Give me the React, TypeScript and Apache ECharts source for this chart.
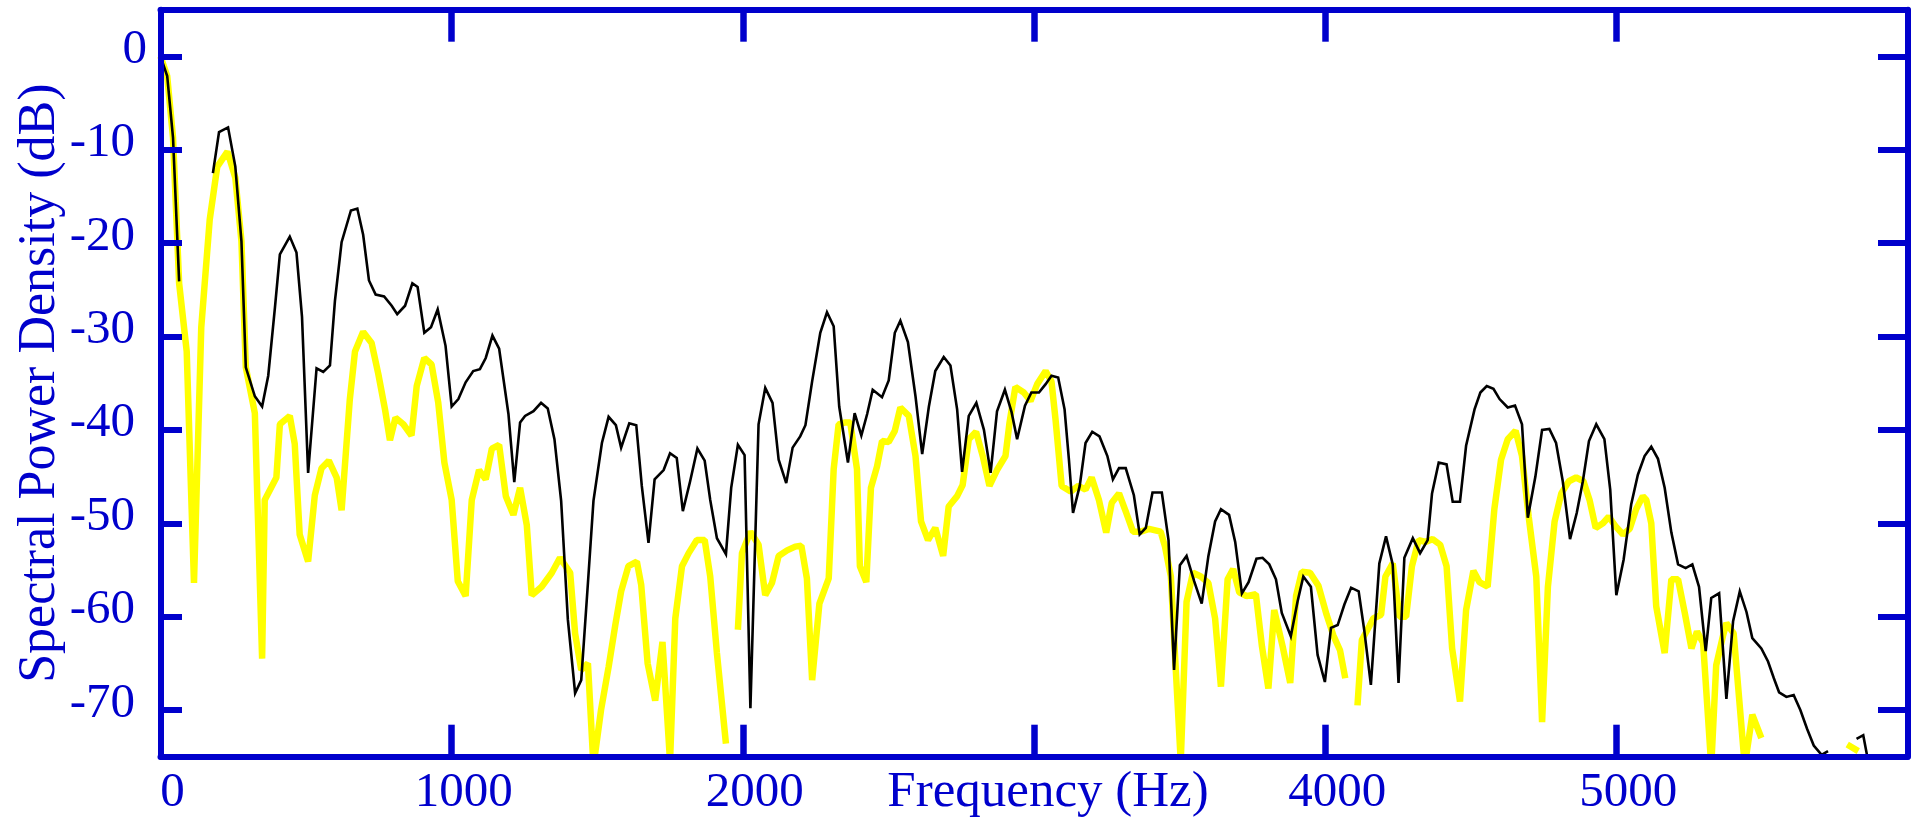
import React, { useEffect, useRef } from 'react';
import * as echarts from 'echarts';

const BLUE = '#0000cc';
const FONT = "'Liberation Serif', 'Times New Roman', serif";

const X_TICKS = [1000, 2000, 3000, 4000, 5000];
const X_LABELS = [0, 1000, 2000, 4000, 5000];
const Y_TICKS = [-70, -60, -50, -40, -30, -20, -10, 0];
const Y_LABELS = [-70, -60, -50, -40, -30, -20, -10, 0];

// [frequency Hz, dB]; null marks a break in the trace
const blackSpectrum: [number, number | null][] = [
  [0, 0], [23, -2.1], [43, -8.7], [64, -24.1], [86, null],
  [180, -12.5], [201, -8.1], [232, -7.6], [257, -11.8], [278, -19.8], [293, -33.3],
  [324, -36.4], [349, -37.5], [370, -34.2], [393, -26.9], [410, -21.2], [444, -19.3],
  [467, -21], [486, -27.9], [507, -44.6], [536, -33.4], [559, -33.8], [582, -33.1],
  [599, -26.2], [622, -19.9], [654, -16.5], [676, -16.3], [696, -19.1], [716, -24],
  [739, -25.5], [768, -25.7], [794, -26.7], [813, -27.6], [840, -26.7], [865, -24.3],
  [883, -24.7], [906, -29.6], [929, -29.0], [952, -27.1], [979, -31], [1000, -37.5],
  [1023, -36.7], [1048, -34.9], [1074, -33.7], [1097, -33.5], [1117, -32.3], [1140, -29.9],
  [1163, -31.3], [1195, -38.3], [1215, -45.6], [1235, -39.2], [1252, -38.5], [1281, -38],
  [1307, -37.1], [1330, -37.7], [1353, -41], [1376, -47.6], [1399, -60.3], [1424, -68.2],
  [1445, -66.8], [1468, -56.4], [1487, -47.6], [1516, -41.4], [1539, -38.6], [1564, -39.5],
  [1582, -41.9], [1610, -39.3], [1634, -39.5], [1653, -46], [1676, -52.1], [1697, -45.3],
  [1728, -44.3], [1750, -42.5], [1773, -43], [1794, -48.7], [1819, -45.5], [1844, -42],
  [1869, -43.3], [1888, -47.5], [1911, -51.6], [1942, -53.3], [1960, -46.2], [1983, -41.6],
  [2006, -42.7], [2026, -69.8], [2054, -39.4], [2077, -35.5], [2102, -37.1], [2123, -43.2],
  [2149, -45.7], [2171, -41.9], [2197, -40.7], [2215, -39.5], [2238, -34.8], [2266, -29.6],
  [2289, -27.4], [2312, -28.9], [2331, -37.5], [2361, -43.5], [2384, -38.2], [2407, -40.6],
  [2427, -38.3], [2446, -35.7], [2478, -36.5], [2501, -34.7], [2522, -29.6], [2541, -28.3],
  [2567, -30.6], [2593, -36.4], [2616, -42.6], [2639, -37.5], [2661, -33.7], [2690, -32.2],
  [2713, -33.1], [2736, -37.8], [2753, -44.5], [2776, -38.5], [2802, -37.1], [2828, -40],
  [2851, -44.6], [2873, -38], [2900, -35.7], [2923, -38.1], [2942, -41], [2969, -37.4],
  [2991, -36], [3017, -36], [3040, -35.1], [3060, -34.2], [3083, -34.4], [3105, -37.8],
  [3120, -43.2], [3134, -48.9], [3157, -46], [3177, -41.4], [3200, -40.2], [3225, -40.7],
  [3252, -42.8], [3271, -45.3], [3292, -44.1], [3315, -44.1], [3343, -47], [3363, -51.2],
  [3384, -50.5], [3407, -46.7], [3439, -46.7], [3462, -51.8], [3481, -65.7], [3501, -54.5],
  [3524, -53.5], [3550, -56.2], [3576, -58.6], [3599, -53.5], [3622, -49.8], [3642, -48.5],
  [3670, -49.1], [3691, -52], [3714, -57.5], [3737, -56.3], [3764, -53.8], [3785, -53.7],
  [3808, -54.4], [3831, -56], [3851, -59.6], [3882, -62.1], [3905, -58.4], [3925, -55.7],
  [3951, -56.8], [3974, -64.1], [3999, -67], [4020, -61.2], [4043, -60.9], [4066, -58.7],
  [4089, -56.9], [4115, -57.3], [4134, -61.4], [4157, -67.3], [4186, -54.3], [4209, -51.4],
  [4232, -54.4], [4252, -67.1], [4272, -53.7], [4301, -51.6], [4326, -53.2], [4352, -51.8],
  [4367, -46.8], [4390, -43.5], [4417, -43.7], [4438, -47.7], [4463, -47.7], [4484, -41.7],
  [4513, -37.8], [4533, -36], [4555, -35.3], [4578, -35.6], [4599, -36.7], [4627, -37.6],
  [4652, -37.4], [4676, -39.4], [4696, -49.4], [4722, -45], [4745, -40], [4770, -39.9],
  [4793, -41.4], [4816, -45.5], [4841, -51.7], [4864, -48.9], [4885, -45.5], [4906, -41.2],
  [4931, -39.4], [4959, -41], [4979, -46.4], [5000, -57.7], [5025, -53.9], [5051, -48],
  [5074, -44.8], [5097, -42.8], [5120, -41.8], [5143, -43.1], [5166, -46.2], [5189, -51],
  [5212, -54.4], [5238, -54.8], [5261, -54.4], [5284, -56.8], [5307, -63.7], [5326, -58],
  [5353, -57.5], [5378, -68.8], [5401, -60.5], [5424, -57.3], [5447, -59.5], [5467, -62.3],
  [5498, -63.4], [5521, -64.8], [5541, -66.6], [5559, -68.1], [5584, -68.6], [5609, -68.4],
  [5632, -70], [5655, -72], [5678, -73.8], [5705, -74.8], [5727, -74.4], [5760, null],
  [5825, -73.1], [5848, -72.7], [5865, -75.5],
];

const yellowSpectrum: [number, number | null][] = [
  [0, 0], [23, -2.1], [43, -8.7], [64, -24.3], [90, -31.6], [115, -56.4], [140, -29],
  [169, -17.5], [195, -11.8], [230, -10.2], [257, -13], [278, -19.8], [293, -33.3],
  [324, -38.2], [349, -64.5], [358, -47.5], [398, -45.1], [410, -39.4], [444, -38.5],
  [461, -41.5], [478, -51.2], [507, -54.1], [530, -47], [553, -44.1], [578, -43.3],
  [605, -45.1], [622, -48.6], [650, -36.8], [668, -31.6], [696, -29.5], [725, -30.7],
  [748, -34], [771, -37.8], [788, -41.1], [807, -38.7], [834, -39.4], [862, -40.6],
  [880, -35.3], [906, -32.3], [931, -33], [954, -37.1], [975, -43.5], [1000, -47.5],
  [1021, -56.2], [1048, -57.8], [1069, -47.5], [1094, -44.3], [1117, -45.3], [1138, -42],
  [1163, -41.6], [1186, -47.1], [1212, -49.1], [1235, -46.2], [1258, -50.2], [1275, -57.7],
  [1309, -56.8], [1344, -55.3], [1372, -53.7], [1407, -55.3], [1424, -61.8], [1445, -65.7],
  [1468, -65], [1487, -76], [1513, -70], [1539, -65.4], [1562, -60.9], [1582, -57.3],
  [1607, -54.6], [1636, -54.1], [1651, -56.6], [1673, -65], [1699, -69], [1724, -62.7],
  [1750, -75.5], [1768, -60.2], [1791, -54.6], [1814, -53.2], [1842, -51.8], [1869, -51.8],
  [1888, -55.7], [1911, -63.9], [1942, -73.6], [1962, null],
  [1983, -61.4], [1997, -53.2], [2026, -50.9], [2054, -52.3], [2077, -57.7], [2100, -56.4],
  [2123, -53.5], [2152, -52.9], [2180, -52.5], [2201, -52.4], [2220, -55.9], [2238, -66.8],
  [2263, -58.6], [2295, -55.9], [2312, -44.2], [2329, -39.4], [2352, -39.2], [2369, -39.2],
  [2392, -44.2], [2402, -54.6], [2424, -56.3], [2440, -46.2], [2461, -43.9], [2478, -41.2],
  [2501, -41.3], [2522, -40.1], [2541, -37.6], [2570, -38.5], [2593, -42.8], [2612, -49.8],
  [2636, -51.8], [2661, -50.5], [2688, -53.5], [2707, -48.2], [2736, -47.1], [2755, -45.9],
  [2776, -41], [2801, -40.2], [2824, -42.8], [2847, -46], [2873, -44.3], [2902, -42.8],
  [2916, -39.2], [2936, -35.4], [2965, -36], [2988, -36.9], [3011, -35.1], [3040, -33.7],
  [3060, -34.8], [3074, -38.9], [3095, -46], [3126, -46.6], [3152, -46], [3177, -46.4],
  [3198, -45.1], [3223, -47.5], [3248, -51], [3267, -47.8], [3292, -46.8], [3317, -48.9],
  [3340, -50.9], [3367, -50.9], [3395, -50.6], [3435, -50.9], [3450, -52.5], [3470, -55.7],
  [3487, -65.7], [3504, -75.5], [3524, -58.4], [3546, -55.3], [3573, -55.7], [3599, -56.4],
  [3622, -60.2], [3642, -67.5], [3665, -56], [3684, -54.9], [3705, -57.4], [3730, -57.8],
  [3762, -57.6], [3783, -63.2], [3805, -67.7], [3825, -59.3], [3854, -63.2], [3880, -67.1],
  [3900, -57.8], [3920, -55.2], [3948, -55.3], [3977, -56.7], [4005, -59.8], [4028, -62],
  [4051, -63.6], [4069, -66.6], [4090, null],
  [4111, -69.5], [4126, -62.5], [4152, -61], [4165, -60.2], [4192, -59.8], [4207, -55.7],
  [4232, -54.3], [4255, -60], [4278, -60], [4298, -54.6], [4321, -51.8], [4344, -52],
  [4369, -51.7], [4395, -52.3], [4417, -54.6], [4436, -63.4], [4463, -69.1], [4484, -59.3],
  [4509, -55.1], [4530, -56.3], [4558, -56.8], [4581, -48.5], [4604, -43.2], [4627, -41],
  [4654, -40.1], [4676, -42.8], [4699, -49.3], [4725, -55.7], [4745, -71.3], [4765, -56.8],
  [4788, -49.8], [4811, -46.8], [4837, -45.5], [4862, -45.1], [4887, -45.5], [4908, -47.5],
  [4929, -50.5], [4954, -50], [4974, -49.3], [4997, -50.3], [5023, -51.2], [5046, -50.6],
  [5068, -48.5], [5091, -47.1], [5103, -47.5], [5120, -50], [5137, -58.9], [5166, -63.9],
  [5189, -56], [5212, -56], [5235, -59.6], [5258, -63.4], [5277, -61.6], [5298, -62.8],
  [5326, -76], [5343, -65.2], [5366, -62.1], [5378, -60.7], [5403, -61.8], [5424, -69.6],
  [5441, -76], [5467, -70.5], [5498, -73], [5600, null],
  [5793, -73.7], [5831, -74.4],
];

function frameAxisLine() {
  return { show: true, onZero: false, lineStyle: { color: BLUE, width: 6 } };
}

export default function App() {
  const ref = useRef<HTMLDivElement>(null);

  useEffect(() => {
    if (!ref.current) return;
    const chart = echarts.init(ref.current, undefined, { renderer: 'svg' });

    const labelStyle = { color: BLUE, fontFamily: FONT, fontSize: 49 };

    chart.setOption({
      animation: false,
      backgroundColor: '#ffffff',
      grid: {
        left: 160.5,
        top: 9.7,
        width: 1747,
        height: 747,
        containLabel: false,
        outerBoundsMode: 'none',
      },
      xAxis: [
        {
          type: 'value',
          position: 'bottom',
          min: 0,
          max: 6000,
          z: 10,
          axisLine: frameAxisLine(),
          axisTick: {
            show: true,
            inside: true,
            length: 32,
            customValues: X_TICKS,
            lineStyle: { color: BLUE, width: 6.5 },
          },
          axisLabel: {
            show: true,
            customValues: X_LABELS,
            formatter: (v: number) => String(v),
            ...labelStyle,
            margin: 8,
            padding: [0, 0, 0, 24],
          },
          splitLine: { show: false },
          name: 'Frequency (Hz)',
          nameLocation: 'middle',
          nameGap: 7,
          nameMoveOverlap: false,
          nameTextStyle: {
            color: BLUE,
            fontFamily: FONT,
            fontSize: 51,
            verticalAlign: 'top',
            padding: [0, 0, 0, 28],
          },
        },
        {
          type: 'value',
          position: 'top',
          min: 0,
          max: 6000,
          z: 10,
          axisLine: frameAxisLine(),
          axisTick: {
            show: true,
            inside: true,
            length: 32,
            customValues: X_TICKS,
            lineStyle: { color: BLUE, width: 6.5 },
          },
          axisLabel: { show: false },
          splitLine: { show: false },
        },
      ],
      yAxis: [
        {
          type: 'value',
          position: 'left',
          min: -75,
          max: 5,
          z: 10,
          axisLine: frameAxisLine(),
          axisTick: {
            show: true,
            inside: true,
            length: 21.5,
            customValues: Y_TICKS,
            lineStyle: { color: BLUE, width: 6 },
          },
          axisLabel: {
            show: true,
            customValues: Y_LABELS,
            margin: 13.5,
            formatter: (v: number) => (v === 0 ? '{z|0}' : `{n|${v}}`),
            rich: {
              n: { ...labelStyle, padding: [0, 12, 20, 0] },
              z: { ...labelStyle, padding: [0, 0, 20, 0] },
            },
          },
          splitLine: { show: false },
          name: 'Spectral Power Density (dB)',
          nameLocation: 'middle',
          nameGap: 98,
          nameMoveOverlap: false,
          nameTextStyle: { color: BLUE, fontFamily: FONT, fontSize: 52 },
        },
        {
          type: 'value',
          position: 'right',
          min: -75,
          max: 5,
          z: 10,
          axisLine: frameAxisLine(),
          axisTick: {
            show: true,
            inside: true,
            length: 29.5,
            customValues: Y_TICKS,
            lineStyle: { color: BLUE, width: 6 },
          },
          axisLabel: { show: false },
          splitLine: { show: false },
        },
      ],
      series: [
        {
          type: 'line',
          name: 'yellow',
          xAxisIndex: 0,
          yAxisIndex: 0,
          data: yellowSpectrum,
          showSymbol: false,
          symbol: 'none',
          connectNulls: false,
          clip: true,
          z: 2,
          lineStyle: { color: '#ffff00', width: 6.5, cap: 'butt', join: 'bevel' },
        },
        {
          type: 'line',
          name: 'black',
          xAxisIndex: 0,
          yAxisIndex: 0,
          data: blackSpectrum,
          showSymbol: false,
          symbol: 'none',
          connectNulls: false,
          clip: true,
          z: 3,
          lineStyle: { color: '#000000', width: 2.6, join: 'miter' },
        },
      ],
    });

    return () => chart.dispose();
  }, []);

  return (
    <div
      ref={ref}
      style={{ position: 'absolute', left: 0, top: 0, width: 1921, height: 819, background: '#fff' }}
    />
  );
}
